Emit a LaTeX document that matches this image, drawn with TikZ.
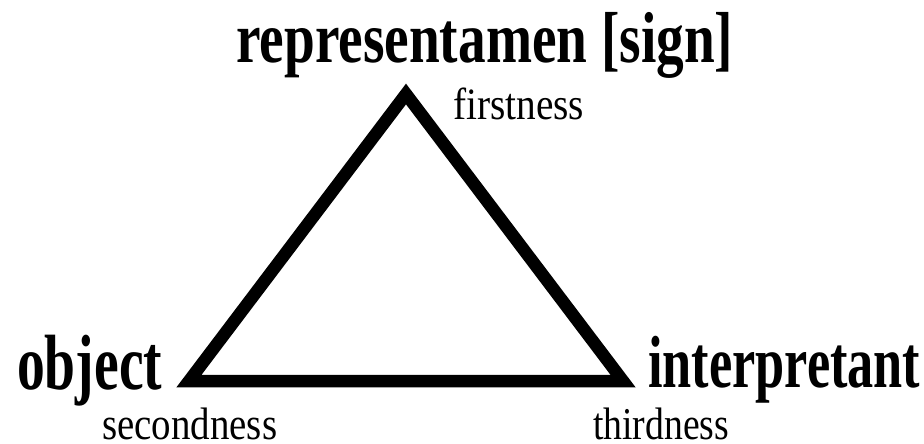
\documentclass[tikz,border=0pt]{standalone}
\usepackage{graphicx}
\usepackage{fontspec}
\setmainfont{Liberation Serif}
\begin{document}
\begin{tikzpicture}[x=1pt,y=-1pt,
  biglabel/.style={anchor=north west,inner sep=0pt,font=\bfseries},
  smalllabel/.style={anchor=north west,inner sep=0pt},
  edge/.style={line width=12.5pt,line join=miter,black}]
\useasboundingbox (0,0) rectangle (924,444);
\fill[white] (0,0) rectangle (924,444);
% vertices
\coordinate (R) at (406,94);
\coordinate (O) at (189,381);
\coordinate (I) at (623,381);
\draw[edge] (R) -- (O) -- (I) -- cycle;
% labels
\node[biglabel] (rep) at (236,12) {\resizebox*{497pt}{66pt}{representamen [sign]}};
\node[smalllabel] (first) at (453,88) {\resizebox*{131pt}{32pt}{firstness}};
\node[biglabel] (obj) at (17,335) {\resizebox*{145pt}{71pt}{object}};
\node[biglabel] (interp) at (648,336) {\resizebox*{272pt}{67pt}{interpretant}};
\node[smalllabel] (second) at (102,408) {\resizebox*{175pt}{32pt}{secondness}};
\node[smalllabel] (third) at (593,408) {\resizebox*{136pt}{32pt}{thirdness}};
\end{tikzpicture}
\end{document}
